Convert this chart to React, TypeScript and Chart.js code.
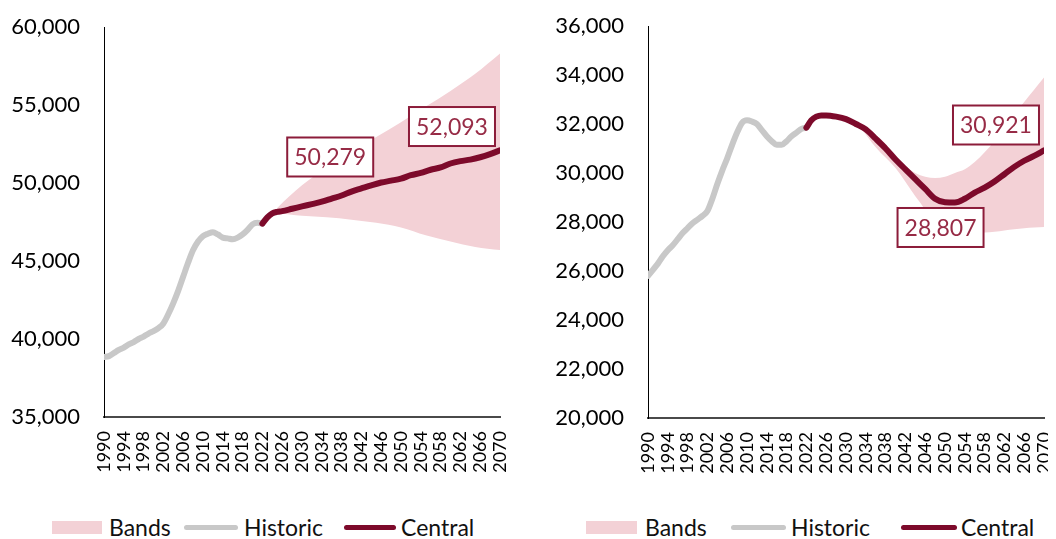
import React, { useEffect, useRef } from "react";
import { Chart, registerables } from "chart.js";

Chart.register(...registerables);

const FONT = "Lato";
const BAND = "#F3D1D6";
const HIST = "#C8C8C8";
const CENTRAL = "#7D0A2B";
const BOX = "#8C1C3A";
const BOX_TEXT = "#972B46";

// ---------- Left chart data ----------
const leftHistYears = [
  1990, 1991, 1992, 1993, 1994, 1995, 1996, 1997, 1998, 1999, 2000, 2001, 2002,
  2003, 2004, 2005, 2006, 2007, 2008, 2009, 2010, 2011, 2012, 2013, 2014, 2015,
  2016, 2017, 2018, 2019, 2020, 2021, 2022,
];
const leftHistoric = [
  38850, 38900, 39100, 39300, 39450, 39650, 39800, 40000, 40150, 40350, 40500,
  40700, 41000, 41600, 42300, 43100, 44000, 44900, 45700, 46250, 46600, 46750,
  46850, 46700, 46500, 46450, 46400, 46500, 46700, 47000, 47350, 47450, 47400,
];
const leftCentralYears = [
  2022, 2023, 2024, 2025, 2026, 2028, 2030, 2032, 2034, 2036, 2038, 2040, 2042,
  2044, 2046, 2048, 2050, 2052, 2054, 2056, 2058, 2060, 2062, 2064, 2066, 2068,
  2070,
];
const leftCentral = [
  47400, 47800, 48050, 48150, 48200, 48350, 48500, 48650, 48800, 49000, 49200,
  49450, 49650, 49850, 50030, 50150, 50279, 50500, 50650, 50850, 51000, 51250,
  51400, 51500, 51650, 51850, 52093,
];
const leftBandYears = [2024, 2025, 2030, 2035, 2040, 2045, 2050, 2055, 2060, 2065, 2070];
const leftBandUpper = [48050, 48400, 49850, 51000, 52000, 52950, 53900, 54900, 55900, 57000, 58300];
const leftBandLower = [48050, 48050, 47900, 47800, 47650, 47450, 47150, 46650, 46250, 45900, 45700];
const leftYTicks = { min: 35000, max: 60000, step: 5000 };
const leftLabels = [
  { text: "50,279", year: 2035.7, value: 51667 },
  { text: "52,093", year: 2060.3, value: 53620 },
];

// ---------- Right chart data ----------
const rightHistYears = leftHistYears;
const rightHistoric = [
  25800, 26050, 26300, 26600, 26850, 27050, 27300, 27550, 27750, 27950, 28100,
  28250, 28450, 28950, 29550, 30100, 30600, 31150, 31650, 32050, 32150, 32100,
  32000, 31750, 31500, 31300, 31150, 31150, 31300, 31500, 31650, 31800, 31850,
];
const rightCentralYears = leftCentralYears;
const rightCentral = [
  31850, 32150, 32300, 32350, 32350, 32300, 32200, 32000, 31780, 31400, 31000,
  30550, 30150, 29750, 29350, 28950, 28807, 28800, 28950, 29200, 29400, 29650,
  29950, 30250, 30500, 30700, 30921,
];
const rightBandYears = [
  2033, 2036, 2040, 2044, 2046, 2048, 2050, 2052, 2054, 2056, 2058, 2060, 2062,
  2064, 2066, 2068, 2070,
];
const rightBandUpper = [
  31850, 31450, 30600, 30000, 29850, 29800, 29850, 30000, 30150, 30450, 30850,
  31300, 31800, 32400, 32900, 33400, 33900,
];
const rightBandLower = [
  31850, 31050, 30200, 29050, 28500, 27850, 27550, 27500, 27520, 27550, 27570,
  27600, 27650, 27700, 27750, 27780, 27800,
];
const rightYTicks = { min: 20000, max: 36000, step: 2000 };
const rightLabels = [
  { text: "30,921", year: 2060.3, value: 31959 },
  { text: "28,807", year: 2049.1, value: 27776 },
];

const xTicks = { min: 1990, max: 2070, step: 4 };
const legendNames = ["Bands", "Historic", "Central"];

const pts = (xs: number[], ys: number[]) => xs.map((x, i) => ({ x, y: ys[i] }));

function boxLabelPlugin(items: { text: string; year: number; value: number }[]) {
  return {
    id: "boxLabels",
    afterDatasetsDraw(chart: any) {
      const { ctx, scales } = chart;
      ctx.save();
      ctx.font = `23px ${FONT}`;
      for (const it of items) {
        const x = scales.x.getPixelForValue(it.year);
        const y = scales.y.getPixelForValue(it.value);
        const w = Math.round(ctx.measureText(it.text).width + 14);
        const h = 39;
        ctx.fillStyle = "#ffffff";
        ctx.fillRect(x - w / 2, y - h / 2, w, h);
        ctx.lineWidth = 2;
        ctx.strokeStyle = BOX;
        ctx.strokeRect(x - w / 2, y - h / 2, w, h);
        ctx.fillStyle = BOX_TEXT;
        ctx.textAlign = "center";
        ctx.textBaseline = "middle";
        ctx.fillText(it.text, x, y + 1);
      }
      ctx.restore();
    },
  };
}

type PanelProps = {
  width: number;
  height: number;
  yWidth: number;
  xHeight: number;
  padding: { top: number; right: number; bottom: number; left: number };
  histYears: number[];
  historic: number[];
  centralYears: number[];
  central: number[];
  bandYears: number[];
  bandUpper: number[];
  bandLower: number[];
  yTicks: { min: number; max: number; step: number };
  labels: { text: string; year: number; value: number }[];
};

function ChartCanvas(p: PanelProps) {
  const ref = useRef<HTMLCanvasElement | null>(null);
  useEffect(() => {
    if (!ref.current) return;
    const chart = new Chart(ref.current, {
      type: "line",
      data: {
        datasets: [
          {
            label: legendNames[2],
            data: pts(p.centralYears, p.central),
            borderColor: CENTRAL,
            borderWidth: 6,
            borderCapStyle: "round",
            borderJoinStyle: "round",
            pointRadius: 0,
            cubicInterpolationMode: "monotone",
            fill: false,
          },
          {
            label: legendNames[1],
            data: pts(p.histYears, p.historic),
            borderColor: HIST,
            borderWidth: 6,
            borderCapStyle: "round",
            borderJoinStyle: "round",
            pointRadius: 0,
            cubicInterpolationMode: "monotone",
            fill: false,
          },
          {
            label: legendNames[0],
            data: pts(p.bandYears, p.bandUpper),
            borderColor: "rgba(0,0,0,0)",
            borderWidth: 0,
            backgroundColor: BAND,
            pointRadius: 0,
            cubicInterpolationMode: "monotone",
            fill: "+1",
          },
          {
            label: "BandsLower",
            data: pts(p.bandYears, p.bandLower),
            borderColor: "rgba(0,0,0,0)",
            borderWidth: 0,
            pointRadius: 0,
            cubicInterpolationMode: "monotone",
            fill: false,
          },
        ],
      },
      options: {
        animation: false,
        responsive: false,
        maintainAspectRatio: false,
        events: [],
        layout: { padding: p.padding },
        plugins: { legend: { display: false }, tooltip: { enabled: false } },
        scales: {
          x: {
            type: "linear",
            min: xTicks.min,
            max: xTicks.max,
            ticks: {
              stepSize: xTicks.step,
              autoSkip: false,
              maxRotation: 90,
              minRotation: 90,
              color: "#000",
              padding: 14,
              font: { family: FONT, size: 18 },
              callback: (v: any) => String(v),
            },
            grid: { display: false, drawTicks: false },
            border: { display: true, color: "#4a4a4a", width: 2 },
            afterFit: (s: any) => {
              s.height = p.xHeight;
              s.paddingLeft = 0;
              s.paddingRight = 0;
            },
          },
          y: {
            min: p.yTicks.min,
            max: p.yTicks.max,
            ticks: {
              stepSize: p.yTicks.step,
              color: "#000",
              padding: 24,
              font: { family: FONT, size: 22 },
              callback: (v: any) => Number(v).toLocaleString("en-US"),
            },
            grid: { display: false, drawTicks: false },
            border: { display: true, color: "#000", width: 1 },
            afterFit: (s: any) => {
              s.width = p.yWidth;
              s.paddingTop = 0;
              s.paddingBottom = 0;
            },
          },
        },
      } as any,
      plugins: [boxLabelPlugin(p.labels)],
    });
    return () => chart.destroy();
  }, []);
  return <canvas ref={ref} width={p.width} height={p.height} style={{ display: "block" }} />;
}

type LegendLayout = {
  left: number;
  boxW: number;
  gaps: number[];
  textW: number[];
  lineW: number[];
};

function Legend({ l }: { l: LegendLayout }) {
  const text = (s: string, w: number, ml: number) => (
    <span style={{ display: "inline-block", width: w, marginLeft: ml, whiteSpace: "nowrap", color: "#111" }}>{s}</span>
  );
  return (
    <div
      style={{
        position: "absolute",
        top: 504,
        left: l.left,
        height: 30,
        display: "flex",
        alignItems: "center",
        fontFamily: FONT,
        fontSize: 23,
        lineHeight: "30px",
      }}
    >
      <span style={{ display: "inline-block", width: l.boxW, height: 13, background: BAND }} />
      {text(legendNames[0], l.textW[0], l.gaps[0])}
      <span style={{ display: "inline-block", width: l.lineW[0], height: 5, borderRadius: 3, background: HIST, marginLeft: l.gaps[1] }} />
      {text(legendNames[1], l.textW[1], l.gaps[2])}
      <span style={{ display: "inline-block", width: l.lineW[1], height: 5, borderRadius: 3, background: CENTRAL, marginLeft: l.gaps[3] }} />
      {text(legendNames[2], l.textW[2], l.gaps[4])}
    </div>
  );
}

export default function App() {
  useEffect(() => {
    document.documentElement.style.overflow = "hidden";
  }, []);
  return (
    <div style={{ display: "flex", width: 1048 }}>
      <div style={{ position: "relative", width: 520, height: 531 }}>
        <ChartCanvas
          width={520}
          height={490}
          yWidth={96}
          xHeight={81}
          padding={{ top: 19, right: 28, bottom: 0, left: 0 }}
          histYears={leftHistYears}
          historic={leftHistoric}
          centralYears={leftCentralYears}
          central={leftCentral}
          bandYears={leftBandYears}
          bandUpper={leftBandUpper}
          bandLower={leftBandLower}
          yTicks={leftYTicks}
          labels={leftLabels}
        />
        <Legend l={{ left: 44, boxW: 50, gaps: [7, 17, 6, 15, 5], textW: [58, 85, 85], lineW: [54, 52] }} />
      </div>
      <div style={{ position: "relative", width: 528, height: 531 }}>
        <ChartCanvas
          width={528}
          height={490}
          yWidth={120}
          xHeight={80}
          padding={{ top: 18, right: 12, bottom: 0, left: 0 }}
          histYears={rightHistYears}
          historic={rightHistoric}
          centralYears={rightCentralYears}
          central={rightCentral}
          bandYears={rightBandYears}
          bandUpper={rightBandUpper}
          bandLower={rightBandLower}
          yTicks={rightYTicks}
          labels={rightLabels}
        />
        <Legend l={{ left: 58, boxW: 51, gaps: [8, 25, 5, 25, 4], textW: [61, 85, 80], lineW: [55, 56] }} />
      </div>
    </div>
  );
}
